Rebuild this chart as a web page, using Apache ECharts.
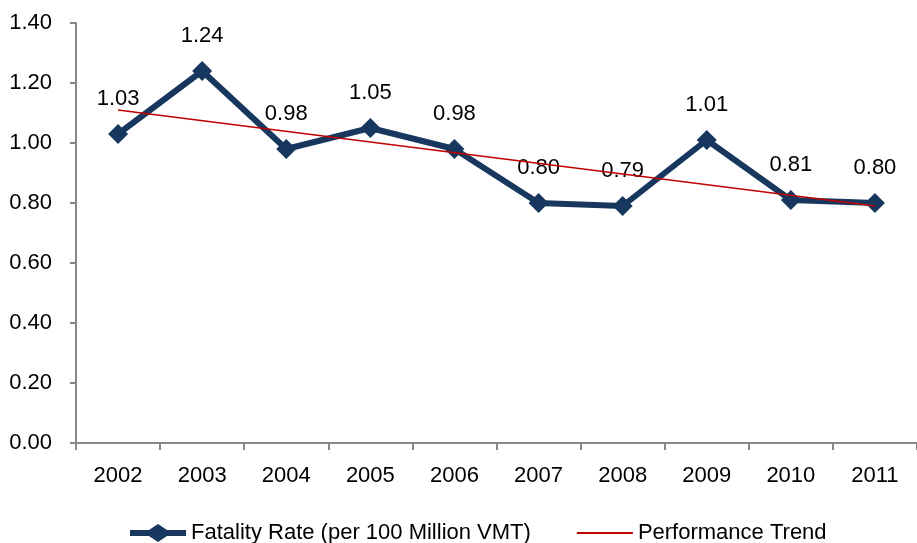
<!DOCTYPE html>
<html>
<head>
<meta charset="utf-8">
<script src="https://cdn.jsdelivr.net/npm/echarts@6/dist/echarts.min.js"></script>
<style>
  html, body { margin: 0; padding: 0; background: #fff; }
  #chart { width: 917px; height: 543px; }
</style>
</head>
<body>
<div id="chart"></div>
<script>
// 数据
var years = ['2002', '2003', '2004', '2005', '2006', '2007', '2008', '2009', '2010', '2011'];
var fatalityRate = [1.03, 1.24, 0.98, 1.05, 0.98, 0.80, 0.79, 1.01, 0.81, 0.80];
// trend line: only the two ends
var trendValues = [1.11, null, null, null, null, null, null, null, null, 0.79];

var font = "'Liberation Sans Narrow', 'Liberation Sans', Arial, sans-serif";

var myChart = echarts.init(document.getElementById('chart'));
myChart.setOption({
    animation: false,
    grid: { left: 76, right: -7, top: 23, bottom: 100 },
    legend: {
        bottom: -1,
        left: 130,
        padding: 0,
        itemWidth: 56,
        itemHeight: 18,
        itemGap: 46,
        textStyle: { fontFamily: font, fontSize: 22, color: '#000' },
        data: [
            { name: 'Fatality Rate (per 100 Million VMT)', icon: 'path://M0,6 L19,6 L28,0 L37,6 L56,6 L56,12 L37,12 L28,18 L19,12 L0,12 Z' },
            { name: 'Performance Trend', icon: 'path://M0,8 L56,8 L56,10 L0,10 Z' }
        ]
    },
    xAxis: {
        type: 'category',
        data: years,
        boundaryGap: true,
        axisLine: { lineStyle: { color: '#888', width: 2 } },
        axisTick: { show: true, length: 7, lineStyle: { color: '#888', width: 2 } },
        axisLabel: { fontFamily: font, fontSize: 22, color: '#000', margin: 22 }
    },
    yAxis: {
        type: 'value',
        min: 0,
        max: 1.4,
        interval: 0.2,
        splitLine: { show: false },
        axisLine: { show: true, lineStyle: { color: '#888', width: 2 } },
        axisTick: { show: true, length: 6, lineStyle: { color: '#888', width: 2 } },
        axisLabel: {
            fontFamily: font, fontSize: 22, color: '#000', margin: 24,
            formatter: function (v) { return v.toFixed(2); }
        }
    },
    series: [
        {
            name: 'Fatality Rate (per 100 Million VMT)',
            type: 'line',
            data: fatalityRate,
            symbol: 'diamond',
            symbolSize: 20,
            lineStyle: { color: '#17375E', width: 6 },
            itemStyle: { color: '#17375E' },
            label: {
                show: true,
                position: 'top',
                distance: 14,
                fontFamily: font,
                fontSize: 22,
                color: '#000',
                formatter: function (p) { return p.value.toFixed(2); }
            },
            z: 2
        },
        {
            name: 'Performance Trend',
            type: 'line',
            data: trendValues,
            connectNulls: true,
            symbol: 'none',
            lineStyle: { color: '#C00000', width: 1.5 },
            itemStyle: { color: '#C00000' },
            z: 3
        }
    ]
});
</script>
</body>
</html>
